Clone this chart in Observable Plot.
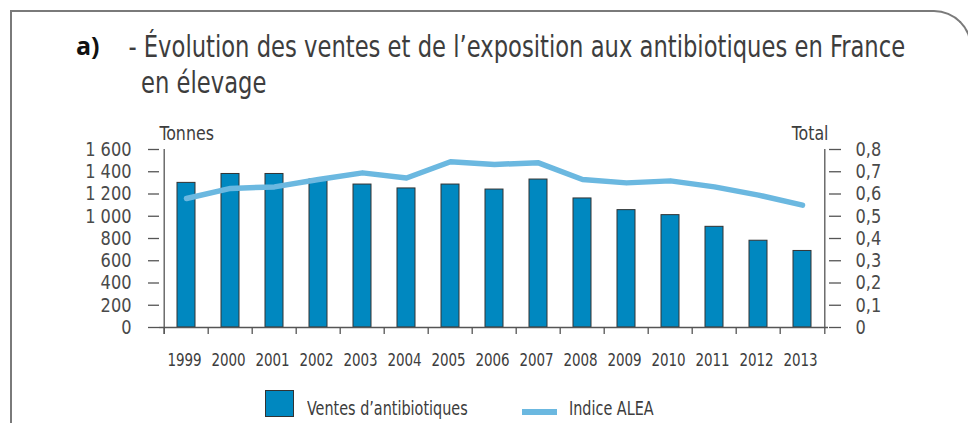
<!DOCTYPE html>
<html>
<head>
<meta charset="utf-8">
<script src="https://cdn.jsdelivr.net/npm/d3@7"></script>
<script src="https://cdn.jsdelivr.net/npm/@observablehq/plot@0.6"></script>
<style>
  html, body { margin: 0; padding: 0; background: #fff; }
  body { width: 968px; height: 423px; position: relative; overflow: hidden;
         font-family: "DejaVu Sans Condensed", "DejaVu Sans", sans-serif; color: #3d3d3d; }
  .abs { position: absolute; white-space: nowrap; }
  #frame { position: absolute; left: 10px; top: 10px; width: 958px; height: 520px;
           border: 2px solid #7a7a7a; border-bottom: none; border-top-right-radius: 38px; }
  #tag { left: 76px; top: 33px; font-family: "Open Sans", "Liberation Sans", sans-serif; font-weight: 700;
         font-size: 25px; line-height: 25px; color: #111; }
  #title { left: 141px; top: 29px; font-size: 30px; line-height: 36px; text-indent: -15px; color: #3d3d3d;
           transform: scaleX(0.84); transform-origin: 0 0; }
  #chart { position: absolute; left: 0; top: 110px; }
  .leg { font-size: 20px; line-height: 20px; color: #3d3d3d; transform: scaleX(0.8); transform-origin: 0 0; }
</style>
</head>
<body>
<div id="frame"></div>
<div class="abs" id="tag">a)</div>
<div class="abs" id="title">- Évolution des ventes et de l’exposition aux antibiotiques en France<br>en élevage</div>
<div id="chart"></div>
<div class="abs" style="left:265px;top:390px;width:27px;height:25px;background:#0088c0;border:1.5px solid #333;"></div>
<div class="abs leg" style="left:307px;top:398px;">Ventes d’antibiotiques</div>
<div class="abs" style="left:522px;top:409px;width:35px;height:6px;background:#6bb8e0;"></div>
<div class="abs leg" style="left:569px;top:398px;">Indice ALEA</div>
<script>
const years = ["1999","2000","2001","2002","2003","2004","2005","2006","2007","2008","2009","2010","2011","2012","2013"];
const ventes = [1300, 1380, 1380, 1330, 1285, 1250, 1285, 1240, 1330, 1160, 1055, 1010, 905, 780, 688];
const alea = [0.58, 0.625, 0.632, 0.665, 0.695, 0.672, 0.745, 0.733, 0.74, 0.665, 0.65, 0.659, 0.632, 0.595, 0.55];
const leftTicks = [0, 200, 400, 600, 800, 1000, 1200, 1400, 1600];
const leftLabels = ["0", "200", "400", "600", "800", "1 000", "1 200", "1 400", "1 600"];
const rightTicks = [0, 0.1, 0.2, 0.3, 0.4, 0.5, 0.6, 0.7, 0.8];
const rightLabels = ["0", "0,1", "0,2", "0,3", "0,4", "0,5", "0,6", "0,7", "0,8"];

const K = 1600 / 0.8; // right axis (0–0.8) mapped onto left axis (0–1600)
const data = years.map((y, i) => ({year: y, ventes: ventes[i], alea: alea[i] * K}));
const rightPos = rightTicks.map(v => v * K);

const W = 968, H = 265, mL = 159, mR = 140;
const half = (W - mL - mR) / years.length / 2;
const tickColor = "#555";
const font = '"DejaVu Sans Condensed", "DejaVu Sans", sans-serif';

const plot = Plot.plot({
  width: W, height: H,
  marginLeft: mL, marginRight: mR, marginTop: 39, marginBottom: 48,
  style: {fontFamily: font, color: "#4a4a4a", background: "transparent"},
  x: {domain: years, paddingInner: 0.6, paddingOuter: 0.3, axis: null},
  y: {domain: [0, 1600], axis: null},
  marks: [
    Plot.barY(data, {x: "year", y: "ventes", fill: "#0088c0", stroke: "#333", strokeWidth: 1}),
    Plot.ruleY([0], {stroke: tickColor, strokeWidth: 1.3}),
    Plot.ruleX(years, {x: d => d, dx: -half, y1: 0, y2: 0, insetBottom: -7, stroke: tickColor, strokeWidth: 1.3}),
    Plot.ruleX([years[0]], {x: d => d, dx: -half, y1: 0, y2: 1600, insetTop: 7, stroke: tickColor, strokeWidth: 1.3}),
    Plot.ruleX([years[years.length - 1]], {x: d => d, dx: half, y1: 0, y2: 1600, insetTop: 7, stroke: tickColor, strokeWidth: 1.3}),
    Plot.line(data, {x: "year", y: "alea", stroke: "#6bb8e0", strokeWidth: 5.5}),
    Plot.axisY({anchor: "left", ticks: leftTicks, tickFormat: d => leftLabels[leftTicks.indexOf(d)],
      tickSize: 11, tickPadding: 17, fontSize: 20, stroke: tickColor, strokeWidth: 1.3, fill: "#4a4a4a", label: null}),
    Plot.axisY({anchor: "right", ticks: rightPos, tickFormat: d => rightLabels[rightPos.indexOf(d)],
      tickSize: 12, tickPadding: 15, fontSize: 20, stroke: tickColor, strokeWidth: 1.3, fill: "#4a4a4a", label: null}),
    Plot.axisX({ticks: years, tickSize: 0, tickPadding: 26, fontSize: 17, dx: -2, fill: "#3d3d3d", label: null}),
    Plot.text(["Tonnes"], {frameAnchor: "top-left", dy: -24, text: d => d, textAnchor: "start", fontSize: 20, fill: "#3d3d3d"}),
    Plot.text(["Total"], {frameAnchor: "top-right", dy: -24, text: d => d, textAnchor: "end", fontSize: 20, fill: "#3d3d3d"})
  ]
});
document.getElementById("chart").appendChild(plot);

// condense SVG text glyphs horizontally (the original uses a condensed typeface)
function condense(selector, ratio) {
  plot.querySelectorAll(selector).forEach(t => {
    const L = t.getComputedTextLength();
    if (L > 0) {
      t.setAttribute("textLength", (L * ratio).toFixed(2));
      t.setAttribute("lengthAdjust", "spacingAndGlyphs");
    }
  });
}
condense('g[aria-label="y-axis tick label"] text', 0.9);
condense('g[aria-label="x-axis tick label"] text', 0.88);
condense('g[aria-label="text"] text', 0.88);
</script>
</body>
</html>
